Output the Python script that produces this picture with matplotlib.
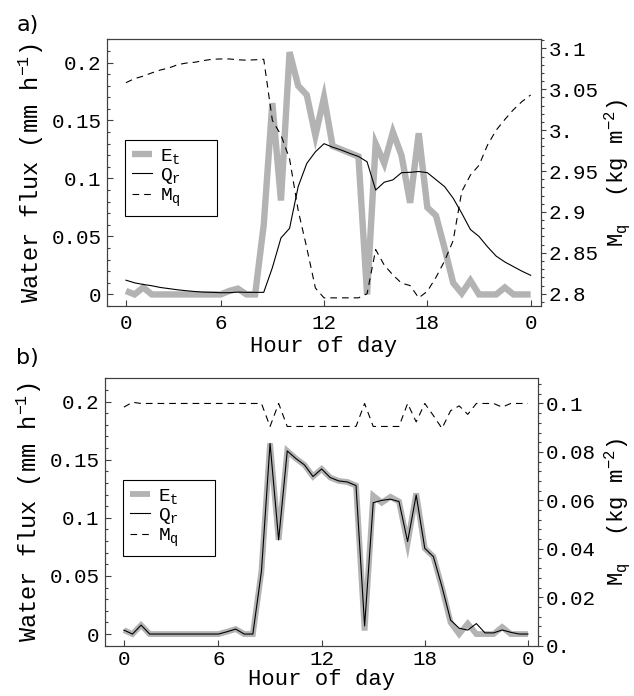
import numpy as np
import matplotlib
matplotlib.use("Agg")
import matplotlib.pyplot as plt
from matplotlib.ticker import MultipleLocator

# ---------------- data ----------------
hours = np.arange(0.5, 24.01, 0.5)   # half-hourly samples

et_a = [0.003, 0.0, 0.006, 0.0, 0.0, 0.0, 0.0, 0.0, 0.0, 0.0, 0.0, 0.0,
        0.003, 0.005, 0.0, 0.0, 0.06, 0.165, 0.081, 0.209, 0.180, 0.172, 0.137, 0.170,
        0.128, 0.125, 0.122, 0.119, 0.0, 0.130, 0.113, 0.140, 0.120, 0.079, 0.139, 0.075,
        0.068, 0.040, 0.010, 0.001, 0.012, 0.0, 0.0, 0.0, 0.006, 0.0, 0.0, 0.0]
qr_a = [0.0123, 0.010, 0.0086, 0.0075, 0.006, 0.005, 0.004, 0.0032, 0.0025, 0.002, 0.0018, 0.0015,
        0.0015, 0.002, 0.0018, 0.0018, 0.0018, 0.023, 0.0487, 0.057, 0.093, 0.113, 0.123, 0.130,
        0.127, 0.1245, 0.1216, 0.119, 0.1144, 0.090, 0.0968, 0.0988, 0.105, 0.1053, 0.106, 0.105,
        0.099, 0.093, 0.083, 0.070, 0.056, 0.050, 0.041, 0.033, 0.028, 0.024, 0.020, 0.0165]
mq_a = [3.058, 3.063, 3.066, 3.070, 3.0735, 3.076, 3.080, 3.082, 3.083, 3.085, 3.0866, 3.087,
        3.087, 3.086, 3.0855, 3.086, 3.0866, 3.012, 2.994, 2.965, 2.902, 2.856, 2.807, 2.795,
        2.795, 2.795, 2.795, 2.795, 2.800, 2.854, 2.835, 2.823, 2.813, 2.810, 2.795, 2.803,
        2.820, 2.840, 2.865, 2.925, 2.945, 2.957, 2.982, 3.000, 3.013, 3.025, 3.035, 3.043]

et_b = [0.0034, 0.0, 0.0077, 0.0, 0.0, 0.0, 0.0, 0.0, 0.0, 0.0, 0.0, 0.0,
        0.002, 0.0043, 0.0, 0.0, 0.054, 0.164, 0.081, 0.1575, 0.151, 0.1455, 0.1355, 0.142,
        0.1346, 0.1317, 0.1308, 0.1277, 0.003, 0.119, 0.113, 0.118, 0.114, 0.078, 0.121, 0.0737,
        0.0666, 0.040, 0.010, 0.0, 0.009, 0.0, 0.0, 0.0, 0.006, 0.0, 0.0, 0.0]
qr_b = [0.0034, 0.0, 0.0077, 0.0, 0.0, 0.0, 0.0, 0.0, 0.0, 0.0, 0.0, 0.0,
        0.002, 0.0043, 0.0, 0.0, 0.054, 0.164, 0.081, 0.1575, 0.151, 0.1455, 0.1355, 0.142,
        0.1346, 0.1317, 0.1308, 0.1277, 0.007, 0.113, 0.115, 0.116, 0.114, 0.0795, 0.1196, 0.0737,
        0.0666, 0.0407, 0.012, 0.005, 0.0034, 0.009, 0.001, 0.001, 0.0035, 0.0015, 0.0, 0.0]
mq_b = [0.0985, 0.1005, 0.1, 0.1, 0.1, 0.1, 0.1, 0.1, 0.1, 0.1, 0.1, 0.1,
        0.1, 0.1, 0.1, 0.1, 0.1, 0.0905, 0.1, 0.0905, 0.0905, 0.0905, 0.0905, 0.0905,
        0.0905, 0.0905, 0.0905, 0.0905, 0.1, 0.0905, 0.0905, 0.0905, 0.0905, 0.1, 0.0924, 0.1,
        0.095, 0.0897, 0.097, 0.099, 0.0955, 0.1, 0.1, 0.1, 0.0985, 0.1, 0.1, 0.1]

x_tick_pos = [0.5, 6, 12, 18, 24]
x_tick_labels = ["0", "6", "12", "18", "0"]
flux_ticks = [0, 0.05, 0.1, 0.15, 0.2]
flux_tick_labels = ["0", "0.05", "0.1", "0.15", "0.2"]
mqa_ticks = [2.8, 2.85, 2.9, 2.95, 3.0, 3.05, 3.1]
mqa_tick_labels = ["2.8", "2.85", "2.9", "2.95", "3.", "3.05", "3.1"]
mqb_ticks = [0.0, 0.02, 0.04, 0.06, 0.08, 0.1]
mqb_tick_labels = ["0.", "0.02", "0.04", "0.06", "0.08", "0.1"]
legend_labels = ["E$_\\mathregular{t}$", "Q$_\\mathregular{r}$", "M$_\\mathregular{q}$"]

# ---------------- style ----------------
MONO = "Liberation Mono"
plt.rcParams["font.family"] = [MONO, "DejaVu Sans"]
plt.rcParams["mathtext.default"] = "regular"
FS = 15
GRAY = "#b3b3b3"
SPINE = "#404040"

fig = plt.figure(figsize=(6.34, 6.96), dpi=100)


def panel(rect, et, qr, mq, mq_lim, mq_ticks, mq_labels, mq_minor, leg_anchor, et_lw,
          letter, letter_y, xtick_pad, xlab_pad, rlab_x):
    ax = fig.add_axes(rect)
    l1, = ax.plot(hours, et, color=GRAY, lw=et_lw, solid_joinstyle="miter", solid_capstyle="butt")
    l2, = ax.plot(hours, qr, color="black", lw=0.8)
    ax.set_xlim(-0.6, 24.6)
    ax.set_ylim(-0.01, 0.22)
    ax.set_xticks(x_tick_pos)
    ax.set_xticklabels(x_tick_labels)
    ax.set_yticks(flux_ticks)
    ax.set_yticklabels(flux_tick_labels)
    ax.yaxis.set_minor_locator(MultipleLocator(0.01))
    ax.tick_params(axis="both", which="both", direction="in", labelsize=FS, colors=SPINE,
                   labelcolor="black", width=0.8)
    ax.tick_params(axis="x", which="major", length=4, pad=xtick_pad, top=False)
    ax.tick_params(axis="y", which="major", length=4, pad=4, right=False)
    ax.tick_params(axis="y", which="minor", length=2.5, right=False)
    ax.set_xlabel("Hour of day", fontsize=16, labelpad=xlab_pad)
    ax.set_ylabel("Water flux (mm h$^{-1}$)", fontsize=17, labelpad=4)

    ax2 = ax.twinx()
    l3, = ax2.plot(hours, mq, color="black", lw=0.8, dashes=(6, 4.5))
    ax2.set_ylim(*mq_lim)
    ax2.set_yticks(mq_ticks)
    ax2.set_yticklabels(mq_labels)
    ax2.yaxis.set_minor_locator(MultipleLocator(mq_minor))
    ax2.tick_params(axis="y", which="both", direction="out", labelsize=FS, colors=SPINE,
                    labelcolor="black", width=0.8, pad=2)
    ax2.tick_params(axis="y", which="major", length=3.5)
    ax2.tick_params(axis="y", which="minor", length=2)
    ax2.set_ylabel("M$_{q}$  (kg m$^{-2}$)", fontsize=16)
    ax2.yaxis.set_label_coords(rlab_x, 0.5)

    for a in (ax, ax2):
        for s in a.spines.values():
            s.set_color(SPINE)
            s.set_linewidth(0.8)

    leg = ax2.legend([l1, l2, l3], legend_labels, loc="upper left",
                     bbox_to_anchor=leg_anchor, mode="expand", fontsize=14,
                     frameon=True, fancybox=False, edgecolor="black", framealpha=1,
                     handlelength=1.05, handletextpad=0.4, labelspacing=0.02,
                     borderpad=0.35, borderaxespad=0)
    leg.get_frame().set_linewidth(0.8)
    fig.text(0.026, letter_y, letter, fontsize=16, family="DejaVu Sans", va="center", ha="left")
    return ax, ax2


panel([0.1688, 0.5603, 0.6845, 0.3832], et_a, qr_a, mq_a, (2.785, 3.111),
      mqa_ticks, mqa_tick_labels, 0.01, (0.0415, 0.35, 0.212, 0.2724), 4.6,
      "a)", 1 - 25 / 696, 6, 2, 1.14)
panel([0.1656, 0.0723, 0.6834, 0.3842], et_b, qr_b, mq_b, (0.0, 0.1104),
      mqb_ticks, mqb_tick_labels, 0.004, (0.0422, 0.348, 0.212, 0.2717), 4.2,
      "b)", 1 - 358 / 696, 3, 0, 1.147)

fig.savefig("out.png", dpi=100)
